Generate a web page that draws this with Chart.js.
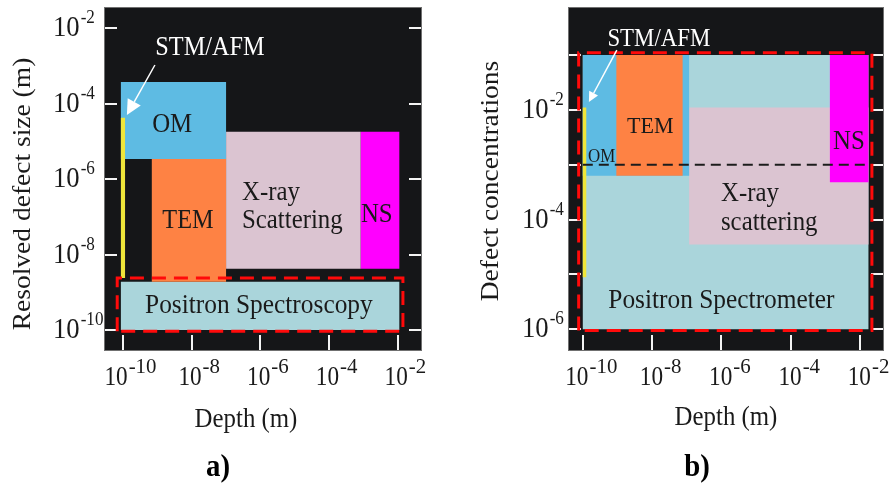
<!DOCTYPE html>
<html>
<head>
<meta charset="utf-8">
<script src="https://cdn.jsdelivr.net/npm/chart.js@4.4.1/dist/chart.umd.min.js"></script>
<style>
html, body { margin: 0; padding: 0; background: #fff; }
#wrap { position: relative; width: 893px; height: 486px; }
canvas { position: absolute; top: 0; }
#chartA { left: 0; }
#chartB { left: 446px; }
</style>
</head>
<body>
<div id="wrap">
  <canvas id="chartA" width="446" height="486"></canvas>
  <canvas id="chartB" width="447" height="486"></canvas>
</div>
<script>
// a) resolved defect size vs depth, boxes listed bottom to top
const methodsA = ['Positron', 'Xray', 'NS', 'OM', 'TEM', 'STM'];
const depthMinA = [8.7e-11, 1e-7, 8.3e-4, 8.7e-11, 6.9e-10, 8.7e-11];
const depthMaxA = [1.1e-2, 8.3e-4, 1.1e-2, 1e-7, 1e-7, 1.15e-10];
const sizeMinA = [1e-10, 4.2e-9, 4.2e-9, 3.4e-6, 1.9e-9, 2.4e-9];
const sizeMaxA = [1.9e-9, 1.8e-5, 1.8e-5, 3.7e-4, 3.4e-6, 4.2e-5];
const frameA = [6.8e-11, 1.4e-2, 9.3e-11, 2.4e-9]; // red dashed frame: depth min/max, size min/max
const xTicksA = [1e-10, 1e-8, 1e-6, 1e-4, 1e-2];
const yTicksA = [1e-2, 1e-4, 1e-6, 1e-8, 1e-10];
const yLabelsA = [1e-2, 1e-4, 1e-6, 1e-8, 1e-10];

// b) defect concentration vs depth
const methodsB = ['Positron', 'Xray', 'OM', 'TEM', 'NS', 'STM'];
const depthMinB = [1e-10, 1.17e-7, 1e-10, 9.3e-10, 1.35e-3, 1e-10];
const depthMaxB = [1.75e-2, 1.75e-2, 1.17e-7, 7.6e-8, 1.75e-2, 1.26e-10];
const concMinB = [1e-6, 3.5e-5, 6.3e-4, 6.3e-4, 4.8e-4, 8.9e-6];
const concMaxB = [1e-1, 1.1e-2, 1e-1, 1e-1, 1e-1, 1.1e-2];
const frameB = [7.6e-11, 2.2e-2, 9.5e-7, 1.1e-1];
const thresholdB = [1e-10, 1.95e-2, 1e-3]; // dashed line: depth from, depth to, concentration
const xTicksB = [1e-10, 1e-8, 1e-6, 1e-4, 1e-2];
const yTicksB = [1e-1, 1e-2, 1e-3, 1e-4, 1e-5, 1e-6];
const yLabelsB = [1e-2, 1e-4, 1e-6];

const colors = {
    Positron: '#aad5db',
    Xray: '#dbc4d1',
    NS: '#ff00ff',
    OM: '#5ebbe3',
    TEM: '#fe8244',
    STM: '#f0e63a'
};

const textA = [
    { t: 'STM/AFM', x: 3.4e-8, y: 1.9e-3, color: '#fff', sx: 0.9 },
    { t: 'OM', x: 2.7e-9, y: 1.75e-5 },
    { t: 'TEM', x: 7.8e-9, y: 5e-8, sx: 0.9 },
    { t: 'X-ray', x: 2.9e-7, y: 2.8e-7, align: 'left' },
    { t: 'Scattering', x: 2.9e-7, y: 5e-8, align: 'left' },
    { t: 'NS', x: 8.4e-4, y: 7.2e-8, align: 'left' },
    { t: 'Positron Spectroscopy', x: 9e-7, y: 2.8e-10, sx: 0.94 }
];
const textB = [
    { t: 'STM/AFM', x: 1.57e-8, y: 0.146, color: '#fff', size: 26, sx: 0.88 },
    { t: 'TEM', x: 8.9e-9, y: 3.8e-3, size: 24 },
    { t: 'OM', x: 3.5e-10, y: 1.1e-3, size: 19, sx: 0.89 },
    { t: 'NS', x: 4.8e-3, y: 1.9e-3 },
    { t: 'X-ray', x: 9.7e-7, y: 2.2e-4, align: 'left' },
    { t: 'scattering', x: 9.7e-7, y: 6.4e-5, align: 'left' },
    { t: 'Positron Spectrometer', x: 1e-6, y: 2.4e-6, sx: 0.94 }
];
const arrowA = { from: [8.5e-10, 1.05e-3], to: [1.3e-10, 5e-5], head: 15 };
const arrowB = { from: [9.6e-10, 0.123], to: [1.5e-10, 1.39e-2], head: 10 };

const FONT = '"Liberation Serif", "Times New Roman", serif';

function drawText(ctx, str, x, y, size, o = {}) {
    ctx.save();
    ctx.translate(x, y);
    if (o.rotate) ctx.rotate(o.rotate);
    ctx.scale(o.sx || 1, o.sy || 1);
    ctx.font = (o.bold ? 'bold ' : '') + size + 'px ' + FONT;
    ctx.fillStyle = o.color || '#1a1a1a';
    ctx.textAlign = o.align || 'center';
    ctx.textBaseline = 'alphabetic';
    ctx.fillText(str, 0, 0);
    ctx.restore();
}

// "10" with the exponent raised
function powerLabel(ctx, v, x, y, st, align) {
    const exp = String(Math.round(Math.log10(v)));
    ctx.font = st.big + 'px ' + FONT;
    const w1 = ctx.measureText('10').width * st.sxBig;
    ctx.font = st.small + 'px ' + FONT;
    const w2 = ctx.measureText(exp).width * st.sxSmall;
    const left = align === 'center' ? x - (w1 + w2) / 2 : x;
    drawText(ctx, '10', left, y, st.big, { sx: st.sxBig, align: 'left' });
    drawText(ctx, exp, left + w1 + 1, y - st.raise, st.small, { sx: st.sxSmall, align: 'left' });
}

function drawArrow(ctx, x0, y0, x1, y1, head) {
    const ang = Math.atan2(y1 - y0, x1 - x0);
    const bx = x1 - head * Math.cos(ang);
    const by = y1 - head * Math.sin(ang);
    ctx.strokeStyle = '#fff';
    ctx.fillStyle = '#fff';
    ctx.lineWidth = 1.5;
    ctx.beginPath();
    ctx.moveTo(x0, y0);
    ctx.lineTo(bx, by);
    ctx.stroke();
    ctx.beginPath();
    ctx.moveTo(x1, y1);
    ctx.lineTo(bx + head * 0.5 * Math.sin(ang), by - head * 0.5 * Math.cos(ang));
    ctx.lineTo(bx - head * 0.5 * Math.sin(ang), by + head * 0.5 * Math.cos(ang));
    ctx.closePath();
    ctx.fill();
}

function makePanelPlugin(p) {
    return {
        id: 'panel',
        beforeDatasetsDraw(chart) {
            const { ctx, chartArea: a, scales: { x, y } } = chart;
            ctx.save();
            ctx.fillStyle = '#151618';
            ctx.fillRect(a.left, a.top, a.right - a.left, a.bottom - a.top);
            ctx.strokeStyle = '#707070';
            ctx.lineWidth = 1;
            ctx.strokeRect(a.left - 0.5, a.top - 0.5, a.right - a.left + 1, a.bottom - a.top + 1);
            ctx.strokeStyle = '#f4f4f4';
            ctx.lineWidth = 2;
            ctx.beginPath();
            p.yTicks.forEach(v => {
                const py = Math.round(y.getPixelForValue(v));
                ctx.moveTo(a.left, py); ctx.lineTo(a.left + 12, py);
                ctx.moveTo(a.right - 12, py); ctx.lineTo(a.right, py);
            });
            p.xTicks.forEach(v => {
                const px = Math.round(x.getPixelForValue(v));
                ctx.moveTo(px, a.bottom - 15); ctx.lineTo(px, a.bottom);
            });
            ctx.stroke();
            ctx.restore();
        },
        afterDraw(chart) {
            const { ctx, chartArea: a, scales: { x, y } } = chart;
            ctx.save();
            drawArrow(ctx,
                x.getPixelForValue(p.arrow.from[0]), y.getPixelForValue(p.arrow.from[1]),
                x.getPixelForValue(p.arrow.to[0]), y.getPixelForValue(p.arrow.to[1]), p.arrow.head);
            p.texts.forEach(l => {
                drawText(ctx, l.t, x.getPixelForValue(l.x), y.getPixelForValue(l.y), l.size || 27,
                    { sx: l.sx || 0.92, color: l.color, align: l.align || 'center' });
            });
            p.yLabels.forEach(v => {
                powerLabel(ctx, v, p.yLabelX, y.getPixelForValue(v) + 8,
                    { big: 29, small: 19, sxBig: 0.92, sxSmall: 0.9, raise: 13 }, 'left');
            });
            p.xTicks.forEach(v => {
                powerLabel(ctx, v, x.getPixelForValue(v) + p.xLabelShift, 385,
                    { big: 27, small: 22, sxBig: 0.86, sxSmall: 0.95, raise: 12 }, 'center');
            });
            drawText(ctx, p.yTitle, p.yTitlePos[0], p.yTitlePos[1], 27.5,
                { rotate: -Math.PI / 2, sy: 0.92 });
            drawText(ctx, 'Depth (m)', p.xTitlePos[0], p.xTitlePos[1], 27, { sx: 0.92 });
            drawText(ctx, p.letter, p.letterPos[0], p.letterPos[1], 32, { bold: true, sx: 0.9, color: '#000' });
            ctx.restore();
        }
    };
}

function rectDataset(x0, x1, y0, y1, color, order) {
    // four corners, first and last on different x so the shape fill keeps its full width
    return {
        data: [{ x: x0, y: y0 }, { x: x0, y: y1 }, { x: x1, y: y1 }, { x: x1, y: y0 }],
        showLine: true,
        fill: 'shape',
        backgroundColor: color,
        borderColor: 'rgba(0,0,0,0)',
        borderWidth: 0,
        pointRadius: 0,
        pointHoverRadius: 0,
        order: order
    };
}

function dashedPath(points, color, width, dash, order) {
    return {
        data: points,
        showLine: true,
        fill: false,
        borderColor: color,
        borderWidth: width,
        borderDash: dash,
        pointRadius: 0,
        pointHoverRadius: 0,
        order: order
    };
}

function buildChart(id, p) {
    const n = p.methods.length;
    const datasets = p.methods.map((m, i) =>
        rectDataset(p.xMin[i], p.xMax[i], p.yMin[i], p.yMax[i], colors[m], n - i + 5));
    if (p.threshold) {
        const t = p.threshold;
        datasets.push(dashedPath([{ x: t[0], y: t[2] }, { x: t[1], y: t[2] }], '#1c1c1c', 2, [10, 6], 2));
    }
    const f = p.frame;
    datasets.push(dashedPath([
        { x: f[0], y: f[2] }, { x: f[0], y: f[3] }, { x: f[1], y: f[3] },
        { x: f[1], y: f[2] }, { x: f[0], y: f[2] }
    ], '#ff0a0a', 3, [14, 8], 1));

    return new Chart(document.getElementById(id), {
        type: 'scatter',
        data: { datasets },
        options: {
            responsive: false,
            animation: false,
            events: [],
            layout: { padding: p.padding },
            plugins: { legend: { display: false }, tooltip: { enabled: false } },
            scales: {
                x: { type: 'logarithmic', display: false, min: p.xRange[0], max: p.xRange[1] },
                y: { type: 'logarithmic', display: false, min: p.yRange[0], max: p.yRange[1] }
            }
        },
        plugins: [makePanelPlugin(p)]
    });
}

buildChart('chartA', {
    methods: methodsA, xMin: depthMinA, xMax: depthMaxA, yMin: sizeMinA, yMax: sizeMaxA,
    frame: frameA, xTicks: xTicksA, yTicks: yTicksA, yLabels: yLabelsA,
    texts: textA, arrow: arrowA,
    xRange: [3.0e-11, 4.7e-2], yRange: [2.95e-11, 3.4e-2],
    padding: { left: 105, top: 8, right: 25, bottom: 136 },
    yLabelX: 53, xLabelShift: 7,
    yTitle: 'Resolved defect size (m)', yTitlePos: [30, 194],
    xTitlePos: [246, 427], letter: 'a)', letterPos: [218, 476]
});

buildChart('chartB', {
    methods: methodsB, xMin: depthMinB, xMax: depthMaxB, yMin: concMinB, yMax: concMaxB,
    frame: frameB, threshold: thresholdB, xTicks: xTicksB, yTicks: yTicksB, yLabels: yLabelsB,
    texts: textB, arrow: arrowB,
    xRange: [4.0e-11, 4.6e-2], yRange: [4.2e-7, 0.72],
    padding: { left: 123, top: 8, right: 10, bottom: 136 },
    yLabelX: 76, xLabelShift: 8,
    yTitle: 'Defect concentrations', yTitlePos: [52, 181],
    xTitlePos: [280, 425], letter: 'b)', letterPos: [251, 476]
});
</script>
</body>
</html>
